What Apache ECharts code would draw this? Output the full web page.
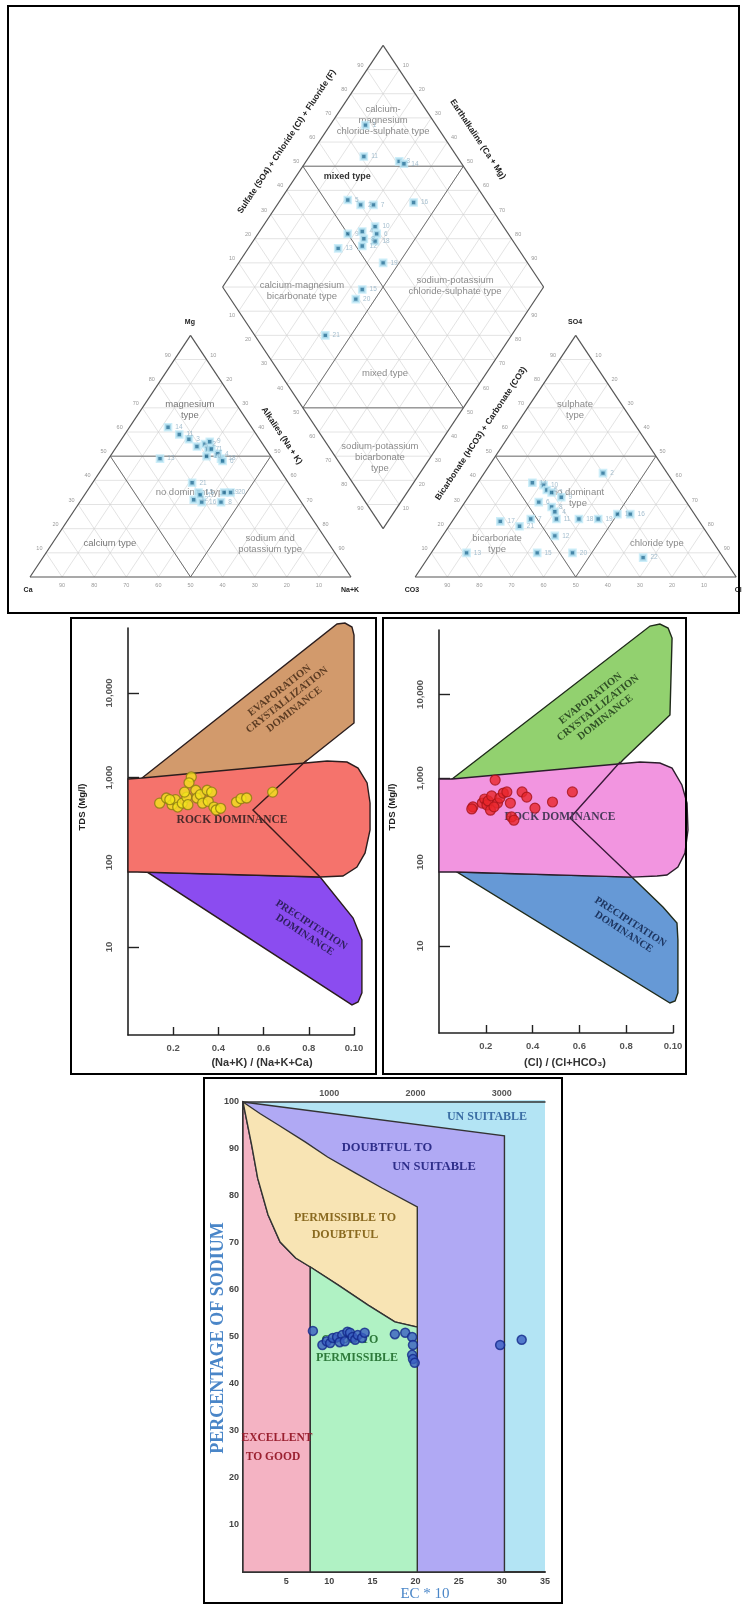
<!DOCTYPE html>
<html><head><meta charset="utf-8">
<script src="https://cdn.jsdelivr.net/npm/echarts@6/dist/echarts.min.js"></script>
<style>html,body{margin:0;padding:0;background:#fff}#c{width:742px;height:1605px}</style>
</head><body><div id="c"></div>
<script>
// ---------------- DATA ----------------
// Piper: cations [Ca, Mg, Na+K] (%)
const pipCations = [[26,62,12],[24,59,17],[22,57,21],[21,54,25],[18,55,27],[16,56,28],[18,53,29],[17,53,30],[16,51,33],[16,49,35],[16,48,36],[20,50,30],[35,49,16],[30,39,31],[30,35,35],[33,32,35],[31,31,38],[22,35,43],[20,35,45],[25,31,44],[30,34,36]];
const pipCationIds = ['14','11','3','5','2','9','7','1','4','18','6','10','13','21','15','12','16','19','20','8','17'];
// Piper: anions [HCO3+CO3, SO4, Cl] (%)
const pipAnions = [[20,43,37],[44,39,17],[41,38,21],[41,36,23],[40,35,25],[38,33,29],[46,31,23],[43,29,28],[43,27,30],[44,24,32],[52,24,24],[62,23,15],[57,21,22],[37,24,39],[31,24,45],[24,26,50],[20,26,54],[48,17,35],[79,10,11],[57,10,33],[46,10,44],[25,8,67]];
const pipAnionIds = ['2','14','10','5','3','9','6','8','4','11','7','17','21','18','19','1','16','12','13','15','20','22'];
// Piper: diamond [Na+K, SO4+Cl] (%)
const pipDiamond = [[11,78],[17,71],[29,81],[31,82],[21,57],[26,60],[30,64],[42,77],[28,50],[32,55],[35,60],[37,59],[34,54],[38,57],[28,44],[35,52],[45,55],[44,43],[44,39],[42,22]];
const pipDiamondIds = ['1','11','3','14','5','2','7','16','9','4','10','6','8','18','13','12','19','15','20','21'];

// Gibbs 1: (Na+K)/(Na+K+Ca) vs TDS
const gibbs1Ratio = [0.14,0.17,0.195,0.21,0.22,0.24,0.26,0.265,0.28,0.27,0.30,0.305,0.32,0.33,0.35,0.355,0.37,0.38,0.39,0.41,0.48,0.50,0.525,0.64,0.25,0.185];
const gibbs1TDS   = [500,575,480,550,450,500,590,480,1020,870,710,575,630,500,710,525,675,450,415,435,515,565,575,675,675,550];
// Gibbs 2: Cl/(Cl+HCO3) vs TDS
const gibbs2Ratio = [0.145,0.14,0.185,0.195,0.205,0.21,0.22,0.225,0.24,0.25,0.26,0.275,0.29,0.305,0.31,0.32,0.355,0.375,0.41,0.485,0.57,0.235];
const gibbs2TDS   = [455,430,505,565,480,535,415,615,950,505,580,665,685,505,345,315,685,595,440,520,685,455];

// Gibbs region boundaries [ratio, TDS]
const gibbs1Evap = [[0.062,990],[0.925,65300],[0.96,67100],[0.991,60100],[1.0,48400],[1.0,4430],[0.783,1530],[0.553,415],[0.3,600]];
const gibbs1Rock = [[0,964],[0.062,990],[0.881,1575],[0.969,1530],[1.018,1300],[1.058,865],[1.071,502],[1.071,241],[1.049,129],[1.013,88],[0.951,69],[0.85,67],[0.04,77],[0,77]];
const gibbs1Prec = [[0.084,77],[0.85,67],[0.996,22],[1.035,12.1],[1.035,2.87],[1.018,2.24],[0.991,2.07]];
const gibbs1Vline = [[0.792,1620],[0.553,415],[0.85,67]];
const gibbs2Evap = [[0.056,977],[0.902,65300],[0.944,69000],[0.979,61800],[0.996,47000],[0.987,5670],[0.786,1650],[0.56,335],[0.3,600]];
const gibbs2Rock = [[0,977],[0.056,977],[0.859,1560],[0.944,1517],[0.996,1321],[1.038,830],[1.06,506],[1.064,241],[1.051,128],[1.021,87],[0.974,70],[0.932,68],[0.825,66],[0.077,76],[0,76]];
const gibbs2Prec = [[0.077,76],[0.825,66],[0.957,29],[1.017,18.7],[1.021,11.7],[1.021,2.74],[1.009,2.2],[0.987,2.08]];
const gibbs2Vline = [[0.774,1560],[0.56,335],[0.825,66]];

const tdsTickValues = [10,100,1000,10000];
const tdsTickLabels = ['10','100','1,000','10,000'];
const ratioTickValues = [0.2,0.4,0.6,0.8,1.0];
const ratioTickLabels = ['0.2','0.4','0.6','0.8','0.10'];

// Wilcox: EC*10 vs % Na
const wilcoxEC = [8.1,9.2,9.7,10.1,10.4,10.9,11.5,12.1,12.4,12.7,13.0,13.3,13.8,14.1,11.2,11.8,17.6,18.8,19.6,19.7,19.6,19.7,19.9,29.8,32.3];
const wilcoxNa = [51.3,48.3,49.1,48.7,49.8,50.0,50.4,51.1,50.9,50.0,49.4,50.4,49.8,50.9,48.9,49.1,50.6,50.9,50.0,48.3,46.2,45.3,44.5,48.3,49.4];
const wilcoxUnsuitable = [[0,0],[35,0],[35,100.4],[0,100]];
const wilcoxDoubtUns = [[0,100],[30.3,92.8],[30.3,0],[0,0]];
const wilcoxPermDoubt = [[0,100],[2,97.5],[4.1,95.1],[7.2,91.5],[9.8,88.3],[13,84.9],[16.1,81.7],[20.2,77.7],[20.2,52.1],[17.6,53.2],[14.5,56.8],[11,61.1],[7.8,64.9],[6.1,66.8],[4.3,70.2],[2.9,76],[1.7,83.8],[1.0,90.9]];
const wilcoxGoodPerm = [[7.8,0],[20.2,0],[20.2,52.1],[17.6,53.2],[14.5,56.8],[11,61.1],[7.8,64.9]];
const wilcoxExcellent = [[0,0],[7.8,0],[7.8,64.9],[6.1,66.8],[4.3,70.2],[2.9,76],[1.7,83.8],[1.0,90.9],[0,100]];
const ecTopTicks = [10,20,30];

// ---------------- PIPER GEOMETRY ----------------
const GAP = 0.2, H = Math.sqrt(3)/2;
const LA=[0,0], LB=[1,0], LC=[0.5,H];
const RA=[1+GAP,0], RB=[2+GAP,0], RC=[1.5+GAP,H];
const DL=[0.5+GAP/2, H+GAP*H], DR=[1.5+GAP/2, H+GAP*H], DT=[1+GAP/2, 2*H+GAP*H], DB=[1+GAP/2, GAP*H];
const lerp=(p,q,t)=>[p[0]+(q[0]-p[0])*t, p[1]+(q[1]-p[1])*t];
const mid=(p,q)=>lerp(p,q,0.5);
function cationXY(c){const s=c[0]+c[1]+c[2]; const mg=c[1]/s, nk=c[2]/s; return [nk+mg/2, mg*H];}
function anionXY(a){const s=a[0]+a[1]+a[2]; const so=a[1]/s, cl=a[2]/s; return [1+GAP+cl+so/2, so*H];}
function diamondXY(d){const a=d[0]/100,b=d[1]/100; return [DL[0]+a*(DB[0]-DL[0])+b*(DT[0]-DL[0]), DL[1]+a*(DB[1]-DL[1])+b*(DT[1]-DL[1])];}

const gridSegs=[];
function triGrid(A,B,C){for(let k=1;k<10;k++){const f=k/10;
  gridSegs.push([...lerp(A,C,f),...lerp(B,C,f)]);
  gridSegs.push([...lerp(A,B,f),...lerp(A,C,f)]);
  gridSegs.push([...lerp(A,B,f),...lerp(B,C,1-f)]);}}
triGrid(LA,LB,LC); triGrid(RA,RB,RC); triGrid(DL,DR,DT); triGrid(DL,DR,DB); gridSegs.push([...DL,...DR]);

const regionSegs=[];
function triRegions(A,B,C){const p=lerp(A,C,0.5), q=lerp(B,C,0.5), m=lerp(A,B,0.5); regionSegs.push([...p,...q],[...p,...m],[...q,...m]);}
triRegions(LA,LB,LC); triRegions(RA,RB,RC);
const mLT=mid(DL,DT), mRT=mid(DR,DT), mLB=mid(DL,DB), mRB=mid(DR,DB);
regionSegs.push([...mLT,...mRT],[...mLB,...mRB],[...mLT,...mRB],[...mRT,...mLB]);
const outlineSegs=[[...LA,...LB],[...LB,...LC],[...LC,...LA],[...RA,...RB],[...RB,...RC],[...RC,...RA],[...DL,...DT],[...DT,...DR],[...DR,...DB],[...DB,...DL]];

const cenL=[0.5,H/3], cenR=[1.5+GAP,H/3], cenD=[DT[0],DL[1]];
const edgeItems=[];
const tickStyle={fill:'#9a9a9a', font:'5.5px "Liberation Sans"'};
function edgeTicks(P,Q,cen){for(let k=1;k<10;k++) edgeItems.push({P,Q,cen,f:k/10,d:8,text:String(k*10),rot:false,style:tickStyle});}
edgeTicks(LA,LC,cenL); edgeTicks(LC,LB,cenL); edgeTicks(LB,LA,cenL);
edgeTicks(RA,RC,cenR); edgeTicks(RC,RB,cenR); edgeTicks(RB,RA,cenR);
edgeTicks(DL,DT,cenD); edgeTicks(DT,DR,cenD); edgeTicks(DL,DB,cenD); edgeTicks(DB,DR,cenD);
const titleStyle={fill:'#1e1e1e', font:'bold 8.5px "Liberation Sans"'};
edgeItems.push({P:DL,Q:DT,cen:cenD,f:0.54,d:27,text:'Sulfate (SO4) + Chloride (Cl) + Fluoride (F)',rot:true,style:titleStyle});
edgeItems.push({P:DT,Q:DR,cen:cenD,f:0.45,d:27,text:'Earthalkaline (Ca + Mg)',rot:true,style:titleStyle});
edgeItems.push({P:DL,Q:DB,cen:cenD,f:0.54,d:33,text:'Alkalies (Na + K)',rot:true,style:titleStyle});
edgeItems.push({P:DB,Q:DR,cen:cenD,f:0.46,d:29,text:'Bicarbonate (HCO3) + Carbonate (CO3)',rot:true,style:titleStyle});

const gray='#8a8a8a', rf='9.5px "Liberation Sans"';
const vf='bold 7px "Liberation Sans"';
const pipLabels=[
 {pos:[1.1,1.638],text:'calcium-\nmagnesium\nchloride-sulphate type',fill:gray,font:rf},
 {pos:[0.988,1.434],text:'mixed type',fill:'#333',font:'bold 9px "Liberation Sans"'},
 {pos:[0.847,1.025],text:'calcium-magnesium\nbicarbonate type',fill:gray,font:rf},
 {pos:[1.324,1.043],text:'sodium-potassium\nchloride-sulphate type',fill:gray,font:rf},
 {pos:[1.106,0.731],text:'mixed type',fill:gray,font:rf},
 {pos:[1.09,0.427],text:'sodium-potassium\nbicarbonate\ntype',fill:gray,font:rf},
 {pos:[0.498,0.599],text:'magnesium\ntype',fill:'#777',font:rf},
 {pos:[0.505,0.305],text:'no dominant type',fill:gray,font:rf},
 {pos:[0.249,0.122],text:'calcium type',fill:'#777',font:rf},
 {pos:[0.748,0.118],text:'sodium and\npotassium type',fill:gray,font:rf},
 {pos:[1.698,0.599],text:'sulphate\ntype',fill:gray,font:rf},
 {pos:[1.707,0.283],text:'no dominant\ntype',fill:gray,font:rf},
 {pos:[1.455,0.118],text:'bicarbonate\ntype',fill:gray,font:rf},
 {pos:[1.953,0.122],text:'chloride type',fill:gray,font:rf},
 {pos:[0.498,0.914],text:'Mg',fill:'#222',font:vf},
 {pos:[1.698,0.914],text:'SO4',fill:'#222',font:vf},
 {pos:[-0.006,-0.047],text:'Ca',fill:'#222',font:vf},
 {pos:[0.997,-0.047],text:'Na+K',fill:'#222',font:vf},
 {pos:[1.19,-0.047],text:'CO3',fill:'#222',font:vf},
 {pos:[2.206,-0.047],text:'Cl',fill:'#222',font:vf}
];

// ---------------- SERIES HELPERS ----------------
function segSeries(segs,color,width,z){
  return {type:'custom',xAxisIndex:0,yAxisIndex:0,z,silent:true,data:segs,
    renderItem:(p,api)=>{const a=api.coord([api.value(0),api.value(1)]),b=api.coord([api.value(2),api.value(3)]);
      return {type:'line',shape:{x1:a[0],y1:a[1],x2:b[0],y2:b[1]},style:{stroke:color,lineWidth:width}};}};
}
function polySeries(ai,pts,fill,stroke,z){
  return {type:'custom',xAxisIndex:ai,yAxisIndex:ai,z,silent:true,data:pts,
    renderItem:(p,api)=>{if(p.dataIndex!==0) return null;
      return {type:'polygon',shape:{points:pts.map(q=>api.coord(q))},style:{fill,stroke,lineWidth:1.4}};}};
}
function polylineSeries(ai,pts,stroke,z){
  return {type:'custom',xAxisIndex:ai,yAxisIndex:ai,z,silent:true,data:pts,
    renderItem:(p,api)=>{if(p.dataIndex!==0) return null;
      return {type:'polyline',shape:{points:pts.map(q=>api.coord(q))},style:{fill:null,stroke,lineWidth:1.4}};}};
}
const edgeSeries={type:'custom',xAxisIndex:0,yAxisIndex:0,z:3,silent:true,
  data:edgeItems.map(it=>lerp(it.P,it.Q,it.f)),
  renderItem:(params,api)=>{const it=edgeItems[params.dataIndex];
    const p=api.coord(lerp(it.P,it.Q,it.f)),a=api.coord(it.P),b=api.coord(it.Q),c=api.coord(it.cen);
    const ex=b[0]-a[0],ey=b[1]-a[1],L=Math.hypot(ex,ey);let nx=-ey/L,ny=ex/L;
    if((p[0]-c[0])*nx+(p[1]-c[1])*ny<0){nx=-nx;ny=-ny;}
    let ang=0; if(it.rot){ang=Math.atan2(-ey,ex); if(ang>Math.PI/2)ang-=Math.PI; if(ang<-Math.PI/2)ang+=Math.PI;}
    return {type:'text',x:p[0]+nx*it.d,y:p[1]+ny*it.d,rotation:ang,
      style:{text:it.text,fill:it.style.fill,font:it.style.font,align:'center',verticalAlign:'middle'}};}};
const pipLabelSeries={type:'custom',xAxisIndex:0,yAxisIndex:0,z:3,silent:true,
  data:pipLabels.map(l=>l.pos),
  renderItem:(params,api)=>{const l=pipLabels[params.dataIndex];const c=api.coord(l.pos);
    return {type:'text',x:c[0],y:c[1],style:{text:l.text,fill:l.fill,font:l.font,align:'center',verticalAlign:'middle',lineHeight:11}};}};

function pipScatter(data){
  return {type:'scatter',xAxisIndex:0,yAxisIndex:0,z:5,data,symbol:'rect',symbolSize:6,
    itemStyle:{color:'#1b6c95',borderColor:'#c0eaf7',borderWidth:2.6},
    label:{show:true,position:'right',distance:3,formatter:'{b}',fontSize:6.5,color:'#8eafc3',fontFamily:'Liberation Sans'}};
}

// ---------------- AXES ----------------
const hiddenAx=(gi,min,max)=>({type:'value',gridIndex:gi,min,max,show:false});
function ratioAxis(gi){
  return {type:'value',gridIndex:gi,min:0,max:1,
    axisLine:{show:true,lineStyle:{color:'#222',width:1.6}},
    axisTick:{show:true,inside:true,length:8,customValues:ratioTickValues,lineStyle:{color:'#222',width:1.4}},
    axisLabel:{customValues:ratioTickValues,margin:8,fontSize:9.5,fontWeight:'bold',color:'#555',fontFamily:'Liberation Sans',
      formatter:v=>{const i=ratioTickValues.findIndex(t=>Math.abs(t-v)<1e-6);return i>=0?ratioTickLabels[i]:'';}},
    splitLine:{show:false}};
}
function tdsAxis(gi){
  return {type:'log',logBase:10,gridIndex:gi,min:0.913,max:58600,
    axisLine:{show:true,lineStyle:{color:'#222',width:1.6}},
    axisTick:{show:true,inside:true,length:11,customValues:tdsTickValues,lineStyle:{color:'#222',width:1.4}},
    axisLabel:{customValues:tdsTickValues,rotate:90,margin:14,fontSize:9.5,fontWeight:'bold',color:'#555',fontFamily:'Liberation Sans',
      formatter:v=>tdsTickLabels[Math.round(Math.log10(v))-1]},
    splitLine:{show:false},minorTick:{show:false}};
}

const serif='"Liberation Serif"';
function gt(x,y,text,color,font,rot,lh){
  return {type:'text',x,y,rotation:rot||0,z:3,silent:true,
    style:{text,fill:color,font,align:'center',verticalAlign:'middle',lineHeight:lh||12}};
}
const box=(x,y,w,h)=>({type:'rect',z:20,silent:true,shape:{x,y,width:w,height:h},style:{fill:null,stroke:'#000',lineWidth:2}});

const option={
  animation:false,
  backgroundColor:'#fff',
  grid:[
    {left:30,top:45.4,width:706.2,height:531.6},
    {left:128,top:628,width:226,height:407},
    {left:439,top:630,width:234,height:403},
    {left:243,top:1102,width:302,height:470}
  ],
  xAxis:[
    hiddenAx(0,0,2+GAP),
    ratioAxis(1), ratioAxis(2),
    {type:'value',gridIndex:3,min:0,max:35,interval:5,
      axisLine:{show:true,lineStyle:{color:'#333',width:2}},axisTick:{show:false},
      axisLabel:{showMinLabel:false,margin:5,fontSize:9,fontWeight:'bold',color:'#444',fontFamily:'Liberation Sans'},splitLine:{show:false}},
    {type:'value',gridIndex:3,position:'top',min:0,max:35,
      axisLine:{show:true,lineStyle:{color:'#333',width:1.5}},axisTick:{show:false},
      axisLabel:{customValues:ecTopTicks,margin:4,fontSize:9,fontWeight:'bold',color:'#555',fontFamily:'Liberation Sans',formatter:v=>String(v*100)},
      splitLine:{show:false}}
  ],
  yAxis:[
    hiddenAx(0,0,DT[1]),
    tdsAxis(1), tdsAxis(2),
    {type:'value',gridIndex:3,min:0,max:100,interval:10,
      axisLine:{show:true,lineStyle:{color:'#333',width:2}},axisTick:{show:false},
      axisLabel:{showMinLabel:false,margin:4,fontSize:9,fontWeight:'bold',color:'#444',fontFamily:'Liberation Sans'},splitLine:{show:false}}
  ],
  graphic:[
    box(8,6,731,607), box(71,618,305,456), box(383,618,303,456), box(204,1078,358,525),
    // Gibbs 1 texts
    gt(287,700,'EVAPORATION\nCRYSTALLIZATION\nDOMINANCE','#5b3b22','bold 10.5px '+serif,0.663,12),
    gt(232,820,'ROCK DOMINANCE','#4a2a2a','bold 11.5px '+serif,0),
    gt(308,930,'PRECIPITATION\nDOMINANCE','#2e1f5e','bold 10.5px '+serif,-0.576,12),
    gt(82,807,'TDS (Mg/l)','#222','bold 9.5px "Liberation Sans"',Math.PI/2),
    gt(262,1063,'(Na+K) / (Na+K+Ca)','#333','bold 11px "Liberation Sans"',0),
    // Gibbs 2 texts
    gt(598,708,'EVAPORATION\nCRYSTALLIZATION\nDOMINANCE','#2f4f25','bold 10.5px '+serif,0.663,12),
    gt(560,817,'ROCK DOMINANCE','#4a3a5a','bold 11.5px '+serif,0),
    gt(627,927,'PRECIPITATION\nDOMINANCE','#1d3560','bold 10.5px '+serif,-0.576,12),
    gt(392,807,'TDS (Mg/l)','#222','bold 9.5px "Liberation Sans"',Math.PI/2),
    gt(565,1063,'(Cl) / (Cl+HCO\u2083)','#333','bold 11px "Liberation Sans"',0),
    // Wilcox texts
    gt(487,1117,'UN SUITABLE','#3b6ea5','bold 12px '+serif,0),
    gt(387,1148,'DOUBTFUL TO','#2e2e8a','bold 12.5px '+serif,0),
    gt(434,1167,'UN SUITABLE','#2e2e8a','bold 12.5px '+serif,0),
    gt(345,1218,'PERMISSIBLE TO','#8a6a20','bold 12px '+serif,0),
    gt(345,1235,'DOUBTFUL','#8a6a20','bold 12px '+serif,0),
    gt(350,1340,'GOOD TO','#2d7a3a','bold 12px '+serif,0),
    gt(357,1358,'PERMISSIBLE','#2d7a3a','bold 12px '+serif,0),
    gt(277,1438,'EXCELLENT','#9a2030','bold 11.5px '+serif,0),
    gt(273,1457,'TO GOOD','#9a2030','bold 11.5px '+serif,0),
    gt(218,1338,'PERCENTAGE OF SODIUM','#4a86c8','bold 18px '+serif,Math.PI/2),
    gt(425,1594,'EC * 10','#4a86c8','15px '+serif,0)
  ],
  series:[
    // Piper
    segSeries(gridSegs,'#d0d0d0',0.6,1),
    segSeries(regionSegs,'#707070',1,2),
    segSeries(outlineSegs,'#555',1.2,2),
    edgeSeries, pipLabelSeries,
    pipScatter(pipCations.map((c,i)=>({value:cationXY(c),name:pipCationIds[i]}))),
    pipScatter(pipAnions.map((a,i)=>({value:anionXY(a),name:pipAnionIds[i]}))),
    pipScatter(pipDiamond.map((d,i)=>({value:diamondXY(d),name:pipDiamondIds[i]}))),
    // Gibbs 1
    polySeries(1,gibbs1Evap,'#d29a6c','#2b1d1d',1),
    polySeries(1,gibbs1Prec,'#8b4cf0','#2b1d1d',1),
    polySeries(1,gibbs1Rock,'#f5736c','#2b1d1d',2),
    polylineSeries(1,gibbs1Vline,'#3a1a1a',2),
    {type:'scatter',xAxisIndex:1,yAxisIndex:1,z:5,symbolSize:10,data:gibbs1Ratio.map((x,i)=>[x,gibbs1TDS[i]]),
      itemStyle:{color:'#f2e41c',borderColor:'#8c7d12',borderWidth:1.3}},
    // Gibbs 2
    polySeries(2,gibbs2Evap,'#92d16f','#1f2a1a',1),
    polySeries(2,gibbs2Prec,'#6699d6','#1f2a1a',1),
    polySeries(2,gibbs2Rock,'#f295e0','#2b1d2b',2),
    polylineSeries(2,gibbs2Vline,'#3a1a3a',2),
    {type:'scatter',xAxisIndex:2,yAxisIndex:2,z:5,symbolSize:10,data:gibbs2Ratio.map((x,i)=>[x,gibbs2TDS[i]]),
      itemStyle:{color:'#e8262b',borderColor:'#a81419',borderWidth:1.2}},
    // Wilcox
    polySeries(3,wilcoxUnsuitable,'#b3e4f4',null,0),
    polySeries(3,wilcoxDoubtUns,'#b0a9f4','#333',1),
    polySeries(3,wilcoxExcellent,'#f4b3c3','#333',1),
    polySeries(3,wilcoxPermDoubt,'#f8e4b4','#333',1),
    polySeries(3,wilcoxGoodPerm,'#b0f2c4','#333',1),
    {type:'scatter',xAxisIndex:3,yAxisIndex:3,z:5,symbolSize:9,data:wilcoxEC.map((x,i)=>[x,wilcoxNa[i]]),
      itemStyle:{color:'#3a5fc0',borderColor:'#13288a',borderWidth:1.5}}
  ]
};
const chart=echarts.init(document.getElementById('c'),null,{renderer:'canvas',width:742,height:1605});
chart.setOption(option);
</script></body></html>
